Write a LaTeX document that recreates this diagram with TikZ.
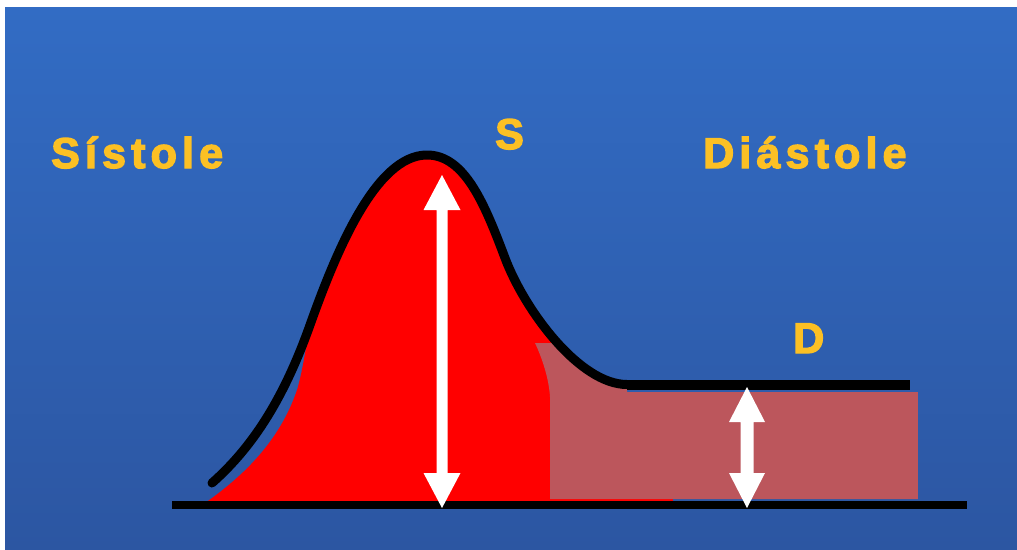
\documentclass[tikz,border=0pt]{standalone}
\usepackage{fontspec}
\newfontfamily\lblfont[LetterSpace=12]{Liberation Sans Bold}
\definecolor{bgtop}{RGB}{50,108,196}
\definecolor{bgbot}{RGB}{44,86,162}
\definecolor{lblyellow}{RGB}{252,192,36}
\definecolor{pinkfill}{RGB}{188,86,92}
\definecolor{wavered}{RGB}{255,0,0}
\newcommand\heavytext[1]{\special{pdf:literal direct 2 Tr 1.3 w}#1\special{pdf:literal direct 0 Tr}}
\tikzset{
  lbl/.style={inner sep=0pt, text=lblyellow, font=\lblfont\fontsize{43}{50}\selectfont, anchor=base west},
  curveline/.style={draw=black, line width=9pt, line join=round, line cap=round},
  baseline/.style={draw=black, line width=8pt},
  arrowfill/.style={fill=white},
}
\newcommand\dblarr[5]{% cx, ty, by, halfhead, halfshaft
  \fill[arrowfill] (#1,#2) -- (#1+#4,#2+35) -- (#1+#5,#2+35) -- (#1+#5,#3-35) -- (#1+#4,#3-35) -- (#1,#3)
    -- (#1-#4,#3-35) -- (#1-#5,#3-35) -- (#1-#5,#2+35) -- (#1-#4,#2+35) -- cycle;}
\begin{document}
\begin{tikzpicture}[x=1pt,y=-1pt]
\useasboundingbox (0,0) rectangle (1017,549);
\fill[white] (0,0) rectangle (1017,549);
\shade[top color=bgtop, bottom color=bgbot] (5,7) rectangle (1017,549);
% red systolic area
\begin{scope}
  \clip (0,0) rectangle (552,549);
  \fill[wavered] (205,503) .. controls (245,475) and (280,440) .. (297,390)
    .. controls (303,370) and (307,340) .. (310,325)
    .. controls (335,255) and (375,155) .. (427,155)
    .. controls (465,155) and (485,205) .. (505,258)
    .. controls (525,311) and (580,384.5) .. (627,384.5) -- (627,503) -- cycle;
\end{scope}
\fill[wavered] (550,496) rectangle (673,502);
% pink diastolic area
\begin{scope}
  \clip (505,258) .. controls (525,311) and (580,384.5) .. (627,384.5) -- (627,392) -- (918,392) -- (918,499) -- (505,499) -- cycle;
  \fill[pinkfill] (535,343) -- (918,343) -- (918,499) -- (550,499) -- (550,397) .. controls (549,380) and (543,360) .. (535,343) -- cycle;
\end{scope}
% baseline
\coordinate (bl) at (172,505);
\coordinate (br) at (967,505);
\draw[baseline] (bl) -- (br);
% pressure curve
\coordinate (c0) at (212,483);
\coordinate (peak) at (427,155);
\coordinate (pl) at (627,384.5);
\coordinate (pe) at (910,384.5);
\draw[curveline] (c0) .. controls (255,445) and (285,395) .. (310,325)
  .. controls (335,255) and (375,155) .. (peak)
  .. controls (465,155) and (485,205) .. (505,258)
  .. controls (525,311) and (580,384.5) .. (pl);
\draw[black, line width=10pt] (pl) -- (pe);
% arrows
\dblarr{442}{175}{508}{18.5}{5.5}
\dblarr{747}{387}{508}{18}{6.5}
% labels
\node[lbl] (sis) at (51,168) {\heavytext{Sístole}};
\node[lbl] (dia) at (703,168) {\heavytext{Diástole}};
\node[lbl] (s) at (495,149) {\heavytext{S}};
\node[lbl] (d) at (793,353) {\heavytext{D}};
\end{tikzpicture}
\end{document}
